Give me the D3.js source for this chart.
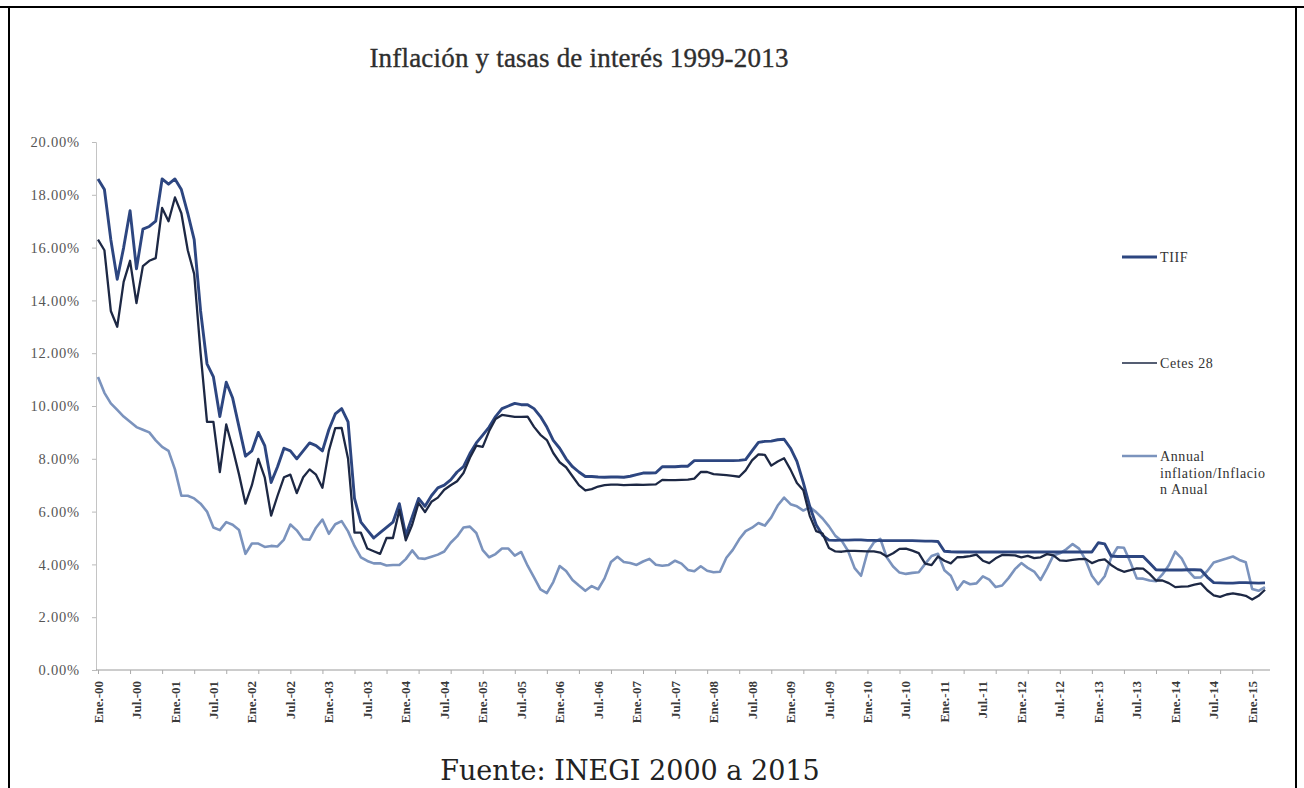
<!DOCTYPE html>
<html>
<head>
<meta charset="utf-8">
<script src="https://cdn.jsdelivr.net/npm/d3@7"></script>
<style>
  body { margin: 0; background: #fff; }
  svg { display: block; }
</style>
</head>
<body>
<svg id="chart" width="1304" height="788"></svg>
<script>
// Monthly series, Jan 2000 – Mar 2015 (percent)
const tiif = [
  18.6, 18.2, 16.3, 14.8, 16.0, 17.4, 15.2, 16.7, 16.8, 17.0, 18.6, 18.4,
  18.6, 18.2, 17.3, 16.3, 13.6, 11.6, 11.1, 9.6, 10.9, 10.3, 9.2, 8.1,
  8.3, 9.0, 8.5, 7.1, 7.7, 8.4, 8.3, 8.0, 8.3, 8.6, 8.5, 8.3,
  9.1, 9.7, 9.9, 9.4, 6.5, 5.6, 5.3, 5.0, 5.2, 5.4, 5.6, 6.3,
  5.1, 5.8, 6.5, 6.2, 6.6, 6.9, 7.0, 7.2, 7.5, 7.7, 8.2, 8.6,
  8.9, 9.2, 9.6, 9.9, 10.0, 10.1, 10.05, 10.05, 9.9, 9.6, 9.2, 8.7,
  8.4, 8.0, 7.7, 7.5, 7.33, 7.33, 7.31, 7.30, 7.31, 7.31, 7.30, 7.34,
  7.40, 7.46, 7.46, 7.47, 7.70, 7.70, 7.70, 7.72, 7.72, 7.93, 7.93, 7.93,
  7.93, 7.93, 7.93, 7.93, 7.94, 7.97, 8.30, 8.62, 8.66, 8.67, 8.72, 8.74,
  8.4, 7.9, 7.1, 6.2, 5.5, 5.1, 4.92, 4.91, 4.92, 4.92, 4.93, 4.93,
  4.91, 4.91, 4.90, 4.90, 4.90, 4.90, 4.90, 4.90, 4.89, 4.88, 4.88, 4.87,
  4.50, 4.48, 4.47, 4.47, 4.47, 4.47, 4.47, 4.47, 4.47, 4.47, 4.47, 4.47,
  4.47, 4.47, 4.47, 4.47, 4.47, 4.47, 4.47, 4.47, 4.47, 4.47, 4.47, 4.47,
  4.82, 4.78, 4.32, 4.30, 4.30, 4.30, 4.30, 4.30, 4.05, 3.80, 3.79, 3.79,
  3.79, 3.79, 3.80, 3.80, 3.79, 3.52, 3.31, 3.30, 3.29, 3.29, 3.31, 3.31,
  3.30, 3.29, 3.30
];

const cetes28 = [
  16.3, 15.9, 13.6, 13.0, 14.7, 15.5, 13.9, 15.3, 15.5, 15.6, 17.5, 17.0,
  17.9, 17.3, 15.9, 15.0, 12.0, 9.4, 9.4, 7.5, 9.3, 8.4, 7.4, 6.3,
  7.0, 8.0, 7.3, 5.85, 6.6, 7.3, 7.4, 6.7, 7.3, 7.6, 7.4, 6.9,
  8.3, 9.16, 9.17, 8.0, 5.2, 5.2, 4.6, 4.5, 4.4, 5.0, 5.0, 6.06,
  4.91, 5.50, 6.33, 5.98, 6.37, 6.53, 6.83, 7.00, 7.15, 7.46, 8.04, 8.50,
  8.45, 9.05, 9.51, 9.66, 9.63, 9.59, 9.59, 9.60, 9.21, 8.91, 8.71, 8.22,
  7.87, 7.68, 7.34, 7.00, 6.80, 6.85, 6.95, 7.00, 7.02, 7.02, 7.00, 7.01,
  7.02, 7.01, 7.02, 7.03, 7.20, 7.19, 7.19, 7.20, 7.21, 7.25, 7.50, 7.50,
  7.42, 7.40, 7.38, 7.35, 7.32, 7.56, 7.94, 8.17, 8.15, 7.74, 7.90, 8.02,
  7.59, 7.08, 6.81, 5.84, 5.26, 5.17, 4.62, 4.49, 4.48, 4.51, 4.51, 4.50,
  4.49, 4.49, 4.45, 4.30, 4.42, 4.59, 4.60, 4.52, 4.43, 4.03, 3.97, 4.30,
  4.14, 4.04, 4.27, 4.28, 4.31, 4.37, 4.14, 4.05, 4.23, 4.36, 4.35, 4.34,
  4.27, 4.32, 4.24, 4.27, 4.39, 4.34, 4.15, 4.13, 4.17, 4.20, 4.21, 4.05,
  4.15, 4.19, 3.98, 3.82, 3.72, 3.78, 3.85, 3.84, 3.64, 3.39, 3.39, 3.29,
  3.14, 3.16, 3.17, 3.23, 3.28, 3.02, 2.83, 2.77, 2.86, 2.90, 2.86, 2.81,
  2.67, 2.81, 3.04
];

const inflacionAnual = [
  11.1, 10.5, 10.1, 9.85, 9.6, 9.4, 9.2, 9.1, 9.0, 8.7, 8.45, 8.3,
  7.6, 6.6, 6.6, 6.5, 6.3, 6.0, 5.4, 5.3, 5.6, 5.5, 5.3, 4.4,
  4.79, 4.79, 4.66, 4.70, 4.68, 4.94, 5.51, 5.29, 4.95, 4.94, 5.39, 5.70,
  5.16, 5.52, 5.64, 5.25, 4.70, 4.27, 4.13, 4.04, 4.04, 3.96, 3.98, 3.98,
  4.20, 4.53, 4.23, 4.21, 4.29, 4.37, 4.49, 4.82, 5.06, 5.40, 5.43, 5.19,
  4.54, 4.27, 4.39, 4.60, 4.60, 4.33, 4.47, 3.95, 3.51, 3.05, 2.91, 3.33,
  3.94, 3.75, 3.41, 3.20, 3.00, 3.18, 3.06, 3.47, 4.09, 4.29, 4.09, 4.05,
  3.98, 4.11, 4.21, 3.99, 3.95, 3.98, 4.14, 4.03, 3.79, 3.74, 3.93, 3.76,
  3.70, 3.72, 4.25, 4.55, 4.95, 5.26, 5.39, 5.57, 5.47, 5.78, 6.23, 6.53,
  6.28, 6.20, 6.04, 6.17, 5.98, 5.74, 5.44, 5.08, 4.89, 4.50, 3.86, 3.57,
  4.46, 4.83, 4.97, 4.27, 3.92, 3.69, 3.64, 3.68, 3.70, 4.02, 4.32, 4.40,
  3.78, 3.57, 3.04, 3.36, 3.25, 3.28, 3.55, 3.42, 3.14, 3.20, 3.48, 3.82,
  4.05, 3.87, 3.73, 3.41, 3.85, 4.34, 4.42, 4.57, 4.77, 4.60, 4.18, 3.57,
  3.25, 3.55, 4.25, 4.65, 4.63, 4.09, 3.47, 3.46, 3.39, 3.36, 3.62, 3.97,
  4.48, 4.23, 3.76, 3.50, 3.51, 3.75, 4.07, 4.15, 4.22, 4.30, 4.17, 4.08,
  3.07, 3.00, 3.14
];

// Category labels every six months
const etiquetasMes = [
  "Ene.-00", "Jul.-00", "Ene.-01", "Jul.-01", "Ene.-02", "Jul.-02", "Ene.-03", "Jul.-03",
  "Ene.-04", "Jul.-04", "Ene.-05", "Jul.-05", "Ene.-06", "Jul.-06", "Ene.-07", "Jul.-07",
  "Ene.-08", "Jul.-08", "Ene.-09", "Jul.-09", "Ene.-10", "Jul.-10", "Ene.-11", "Jul.-11",
  "Ene.-12", "Jul.-12", "Ene.-13", "Jul.-13", "Ene.-14", "Jul.-14", "Ene.-15"
];

const yTicks = [0, 2, 4, 6, 8, 10, 12, 14, 16, 18, 20];

const seriesNames = ["TIIF", "Cetes 28", "Annual inflation/Inflacio n Anual"];

// ---------------------------------------------------------------
const svg = d3.select("#chart");
const serif = "'Liberation Serif', 'Times New Roman', serif";

// frame
svg.append("line").attr("x1", 0).attr("x2", 1304).attr("y1", 7).attr("y2", 7)
  .attr("stroke", "#000").attr("stroke-width", 2);
svg.append("line").attr("x1", 9).attr("x2", 9).attr("y1", 6).attr("y2", 788)
  .attr("stroke", "#000").attr("stroke-width", 2);
svg.append("line").attr("x1", 1296).attr("x2", 1296).attr("y1", 6).attr("y2", 788)
  .attr("stroke", "#000").attr("stroke-width", 2);

const nMonths = tiif.length;
const x = d3.scaleLinear().domain([0, nMonths - 1]).range([98, 1265]);
const y = d3.scaleLinear().domain([0, 20]).range([670, 142]);

// title
svg.append("text")
  .attr("x", 579).attr("y", 67)
  .attr("text-anchor", "middle")
  .attr("font-family", serif)
  .attr("font-size", 27)
  .attr("letter-spacing", 0.2)
  .attr("fill", "#2e2e2e")
  .attr("stroke", "#2e2e2e").attr("stroke-width", 0.35)
  .text("Inflación y tasas de interés 1999-2013");

// y axis
const yAxis = svg.append("g")
  .attr("transform", "translate(96,0)")
  .call(d3.axisLeft(y).tickValues(yTicks).tickFormat(d => d.toFixed(2) + "%")
    .tickSize(4).tickPadding(12));
yAxis.select(".domain").attr("stroke", "#c4c4c4");
yAxis.selectAll(".tick line").attr("stroke", "#bbb");
yAxis.selectAll(".tick text")
  .attr("font-family", serif).attr("font-size", 14.5).attr("fill", "#555")
  .attr("letter-spacing", 0.8);

// x axis: line + minor ticks every five months
const xAxis = svg.append("g")
  .attr("transform", "translate(0,670)")
  .call(d3.axisBottom(x).tickValues(d3.range(0, nMonths, 5)).tickSize(4).tickFormat(""));
xAxis.select(".domain").attr("d", "M96,0H1270").attr("stroke", "#9a9a9a");
xAxis.selectAll(".tick line").attr("stroke", "#aaa");

// x labels (rotated)
const labelG = svg.append("g");
labelG.selectAll("text")
  .data(etiquetasMes)
  .join("text")
  .attr("transform", (d, i) => `translate(${x(i * 6)},681) rotate(-90)`)
  .attr("text-anchor", "end")
  .attr("dy", "0.35em")
  .attr("font-family", serif)
  .attr("font-weight", "bold")
  .attr("font-size", 13)
  .attr("fill", "#3a3a3a")
  .text(d => d);

// series lines
const series = [
  { name: seriesNames[0], values: tiif, color: "#2d4680", width: 2.9 },
  { name: seriesNames[1], values: cetes28, color: "#1d2844", width: 2.3 },
  { name: seriesNames[2], values: inflacionAnual, color: "#7b93bd", width: 2.6 }
];

const line = d3.line().x((d, i) => x(i)).y(d => y(d));

svg.append("g").selectAll("path")
  .data([series[2], series[0], series[1]])
  .join("path")
  .attr("d", s => line(s.values))
  .attr("fill", "none")
  .attr("stroke", s => s.color)
  .attr("stroke-width", s => s.width)
  .attr("stroke-linejoin", "round");

// legend
const legendY = [257, 363, 456];
const legend = svg.append("g");
series.forEach((s, k) => {
  legend.append("line")
    .attr("x1", 1122).attr("x2", 1157)
    .attr("y1", legendY[k]).attr("y2", legendY[k])
    .attr("stroke", s.color).attr("stroke-width", k === 1 ? 1.6 : s.width);
});
const legendLines = [["TIIF"], ["Cetes 28"], ["Annual", "inflation/Inflacio", "n Anual"]];
legendLines.forEach((rows, k) => {
  const t = legend.append("text")
    .attr("font-family", serif).attr("font-size", 14)
    .attr("fill", "#333").attr("letter-spacing", 0.6);
  rows.forEach((r, j) => {
    t.append("tspan").attr("x", 1160).attr("y", legendY[k] + 5 + j * 16.5).text(r);
  });
});

// source note: a wide serif sized to span ~397px
const fuente = svg.append("text")
  .attr("x", 630).attr("y", 780)
  .attr("text-anchor", "middle")
  .attr("font-family", "'DejaVu Serif', serif")
  .attr("font-size", 25)
  .attr("fill", "#222")
  .text("Fuente: INEGI 2000 a 2015");
const w = fuente.node().getComputedTextLength();
if (w > 0) fuente.attr("font-size", Math.min(27, 25 * 397 / w));
</script>
</body>
</html>
